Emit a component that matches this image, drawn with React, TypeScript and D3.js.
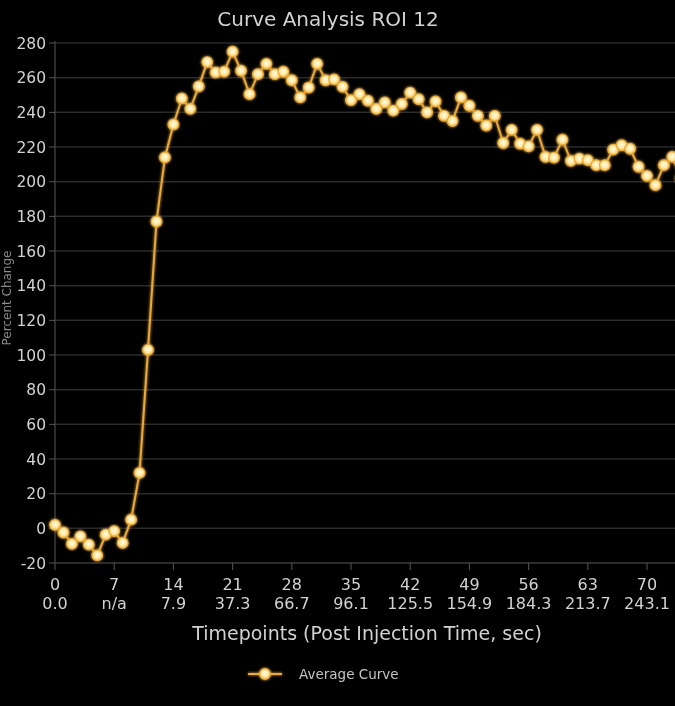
import React from "react";
import * as d3 from "d3";

const TITLE = "Curve Analysis ROI 12";
const X_TITLE = "Timepoints (Post Injection Time, sec)";
const Y_TITLE = "Percent Change";
const LEGEND_LABEL = "Average Curve";

const xTickValues = [0, 7, 14, 21, 28, 35, 42, 49, 56, 63, 70];
const xTimeLabels = ["0.0", "n/a", "7.9", "37.3", "66.7", "96.1", "125.5", "154.9", "184.3", "213.7", "243.1"];
const yTickValues = [-20, 0, 20, 40, 60, 80, 100, 120, 140, 160, 180, 200, 220, 240, 260, 280];

const averageCurve = [
  2, -2.4, -9, -4.6, -9.4, -15.6, -3.6, -1.6, -8.4, 5,
  32, 103, 177, 214, 233, 248, 242, 255, 269, 263,
  263.5, 275, 264, 250.5, 262, 268, 262, 263.4, 258.5, 248.6,
  254.3, 268, 258.5, 259, 254.7, 247, 250.5, 246.7, 242, 245.7,
  241, 244.8, 251.4, 247.6, 240, 246.3, 238, 235, 248.6, 243.8,
  238, 232.4, 238, 222.3, 229.9, 221.9, 220.4, 229.9, 214.3, 213.9,
  224.2, 212, 213.3, 212.4, 209.5, 209.5, 218.5, 221, 219, 208.6,
  203.3, 198, 209.5, 214.3, 202,
];

const W = 675;
const H = 706;

export default function App() {
  const x = d3.scaleLinear().domain([0, 70]).range([55, 647]);
  const y = d3.scaleLinear().domain([-20, 280]).range([563, 43]);
  const line = d3
    .line<number>()
    .x((_, i) => x(i))
    .y((d) => y(d));

  const font = "'DejaVu Sans', 'Open Sans', sans-serif";
  const textColor = "#d2d2d2";

  return (
    <>
      <style>{"body{margin:0;background:#000;overflow:hidden}"}</style>
      <svg width={W} height={H} style={{ display: "block", background: "#000" }} fontFamily={font}>
        <defs>
          <filter id="glow" x="-50%" y="-50%" width="200%" height="200%">
            <feGaussianBlur stdDeviation="1.6" result="b" />
            <feMerge>
              <feMergeNode in="b" />
              <feMergeNode in="SourceGraphic" />
            </feMerge>
          </filter>
          <filter id="soft" x="-5%" y="-20%" width="110%" height="140%">
            <feGaussianBlur stdDeviation="0.45" />
          </filter>
          <radialGradient id="dotFill" cx="50%" cy="45%" r="55%">
            <stop offset="0%" stopColor="#fffbe6" />
            <stop offset="60%" stopColor="#ffe7a0" />
            <stop offset="100%" stopColor="#f2b94a" />
          </radialGradient>
        </defs>
        <rect x={0} y={0} width={W} height={H} fill="#000" />

        <g filter="url(#soft)">
          <text x={328} y={26} textAnchor="middle" fill={textColor} fontSize={20}>
            {TITLE}
          </text>
        </g>

        {/* grid lines */}
        {yTickValues.map((v) => (
          <line key={"g" + v} x1={55} x2={W} y1={y(v)} y2={y(v)} stroke={v === -20 ? "#3a3a3a" : "#2a2a2a"} strokeWidth={1.5} />
        ))}

        {/* y axis */}
        <line x1={55} x2={55} y1={y(280) - 2} y2={y(-20)} stroke="#3c3c3c" strokeWidth={1.5} />
        <g filter="url(#soft)">
          {yTickValues.map((v) => (
            <g key={"y" + v}>
              <line x1={49} x2={55} y1={y(v)} y2={y(v)} stroke="#555" strokeWidth={1} />
              <text x={46} y={y(v)} dy="0.36em" textAnchor="end" fill={textColor} fontSize={15.5}>
                {v}
              </text>
            </g>
          ))}
          <text
            transform={`translate(11, 298) rotate(-90)`}
            textAnchor="middle"
            fill="#8a8a8a"
            fontSize={12}
          >
            {Y_TITLE}
          </text>
        </g>

        {/* x axis */}
        <g filter="url(#soft)">
          {xTickValues.map((v, i) => (
            <g key={"x" + v}>
              <line x1={x(v)} x2={x(v)} y1={y(-20)} y2={y(-20) + 7} stroke="#555" strokeWidth={1} />
              <text x={x(v)} y={590} textAnchor="middle" fill={textColor} fontSize={16}>
                {v}
              </text>
              <text x={x(v)} y={609} textAnchor="middle" fill={textColor} fontSize={16}>
                {xTimeLabels[i]}
              </text>
            </g>
          ))}
          <text x={367} y={640} textAnchor="middle" fill={textColor} fontSize={19}>
            {X_TITLE}
          </text>
        </g>

        {/* series */}
        <g filter="url(#glow)">
          <path d={line(averageCurve) || ""} fill="none" stroke="#e9a93a" strokeWidth={2} />
          {averageCurve.map((v, i) => (
            <circle key={"p" + i} cx={x(i)} cy={y(v)} r={5.3} fill="url(#dotFill)" stroke="#e9a93a" strokeWidth={1.2} />
          ))}
        </g>

        {/* legend */}
        <g filter="url(#glow)">
          <line x1={248} x2={282} y1={674} y2={674} stroke="#e9a93a" strokeWidth={2} />
          <circle cx={265} cy={674} r={5.3} fill="url(#dotFill)" stroke="#e9a93a" strokeWidth={1.2} />
        </g>
        <g filter="url(#soft)">
          <text x={299} y={674} dy="0.36em" fill="#c4c4c4" fontSize={13.5}>
            {LEGEND_LABEL}
          </text>
        </g>
      </svg>
    </>
  );
}
